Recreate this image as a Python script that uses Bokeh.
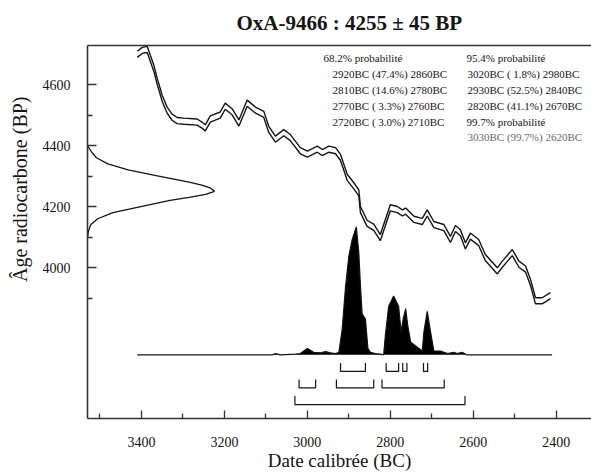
import math
from bokeh.plotting import figure
from bokeh.models import Range1d, FixedTicker, LinearAxis, ColumnDataSource, Title
from bokeh.embed import file_html
from bokeh.resources import INLINE
from bokeh.core.properties import value

# ---------------- data ----------------
title_text = "OxA-9466 : 4255 \u00b1 45 BP"
x_title = "Date calibr\u00e9e (BC)"
y_title = "\u00c2ge radiocarbone (BP)"

# calibration curve (mid line, BP) against calendar date (BC)
cal_bc = [3410, 3398, 3386, 3370, 3362, 3350, 3338, 3326, 3314, 3298, 3266, 3254, 3246, 3234, 3210,
          3198, 3181, 3165, 3145, 3125, 3105, 3093, 3077, 3057, 3041, 3017, 3000, 2976, 2964, 2948,
          2932, 2920, 2904, 2888, 2876, 2872, 2856, 2840, 2824, 2800, 2783, 2771, 2763, 2743, 2723,
          2711, 2695, 2671, 2655, 2643, 2631, 2619, 2607, 2587, 2571, 2542, 2530, 2506, 2490, 2474,
          2462, 2450, 2434, 2414]
c14_mid = [4699, 4712, 4715, 4653, 4611, 4555, 4516, 4493, 4482, 4480, 4477, 4467, 4458, 4487, 4500,
           4529, 4510, 4474, 4539, 4516, 4502, 4453, 4421, 4442, 4426, 4383, 4372, 4388, 4377, 4388,
           4383, 4361, 4296, 4268, 4245, 4190, 4145, 4132, 4098, 4196, 4190, 4179, 4185, 4158, 4151,
           4179, 4141, 4131, 4092, 4128, 4114, 4071, 4103, 4082, 4033, 3989, 4011, 4049, 4011, 3995,
           3951, 3891, 3891, 3908]
curve_err = 10

# calibrated probability distribution (relative)
dist_bc = [3410, 3084, 3077, 3065, 3029, 3017, 3000, 2985, 2968, 2956, 2944, 2932, 2924, 2916, 2908,
           2900, 2892, 2882, 2876, 2872, 2868, 2860, 2854, 2848, 2836, 2824, 2816, 2812, 2804, 2792,
           2780, 2774, 2769, 2763, 2758, 2751, 2735, 2723, 2719, 2711, 2703, 2695, 2679, 2662, 2647,
           2639, 2627, 2616, 2410]
dist_rel = [0, 0, 0.01, 0, 0.005, 0.01, 0.05, 0.02, 0.015, 0.025, 0.015, 0.01, 0.02, 0.20, 0.53,
            0.77, 0.90, 1.0, 0.80, 0.54, 0.32, 0.28, 0.05, 0.02, 0.01, 0.005, 0.0, 0.15, 0.38, 0.46,
            0.38, 0.18, 0.28, 0.36, 0.23, 0.10, 0.06, 0.03, 0.18, 0.34, 0.18, 0.03, 0.03, 0.01, 0.02,
            0.01, 0.02, 0, 0]

# radiocarbon measurement profile (relative)
gauss_bp = [4400, 4380, 4360, 4340, 4320, 4300, 4280, 4270, 4260, 4250, 4240, 4230, 4220, 4200,
            4180, 4160, 4140, 4120, 4100]
gauss_rel = [0.0, 0.03, 0.07, 0.16, 0.32, 0.56, 0.80, 0.90, 0.97, 1.0, 0.93, 0.80, 0.65, 0.42,
             0.20, 0.08, 0.025, 0.008, 0.0]

# ranges (BC)
range_68 = [(2920, 2860), (2810, 2780), (2770, 2760), (2720, 2710)]
range_95 = [(3020, 2980), (2930, 2840), (2820, 2670)]
range_99 = [(3030, 2620)]

# legend text
col1_text = ["68.2% probabilit\u00e9",
             "2920BC (47.4%) 2860BC",
             "2810BC (14.6%) 2780BC",
             "2770BC ( 3.3%) 2760BC",
             "2720BC ( 3.0%) 2710BC"]
col2_text = ["95.4% probabilit\u00e9",
             "3020BC ( 1.8%) 2980BC",
             "2930BC (52.5%) 2840BC",
             "2820BC (41.1%) 2670BC",
             "99.7% probabilit\u00e9",
             "3030BC (99.7%) 2620BC"]

x_ticks = [3400, 3200, 3000, 2800, 2600, 2400]
x_minor = [3500, 3300, 3100, 2900, 2700, 2500]
y_ticks = [4000, 4200, 4400, 4600]
y_minor = [3900, 4100, 4300, 4500]

# ---------------- layout ----------------
W, H = 591, 473
X_LEFT, X_RIGHT = 3530, 2315
Y_BOTTOM, Y_TOP = 3505, 4728
FL, FR, FT, FB = 87, 591, 45, 420


def px2x(px):
    return X_LEFT + (px - FL) * (X_RIGHT - X_LEFT) / (FR - FL)


def py2y(py):
    return Y_TOP - (py - FT) * (Y_TOP - Y_BOTTOM) / (FB - FT)


def dy(pix):
    return pix * (Y_TOP - Y_BOTTOM) / (FB - FT)


def dx(pix):
    return pix * (X_LEFT - X_RIGHT) / (FR - FL)


SERIF = "Liberation Serif"
INK = "#141414"

p = figure(width=W, height=H, x_range=Range1d(X_LEFT, X_RIGHT), y_range=Range1d(Y_BOTTOM, Y_TOP),
           output_backend="svg", toolbar_location=None,
           min_border_left=FL, min_border_right=W - FR, min_border_top=FT, min_border_bottom=H - FB)
p.grid.visible = False
p.outline_line_color = None
p.background_fill_color = "white"
p.border_fill_color = "white"

xa = p.xaxis[0]
xa.ticker = FixedTicker(ticks=x_ticks, minor_ticks=x_minor)
ya = p.yaxis[0]
ya.ticker = FixedTicker(ticks=y_ticks, minor_ticks=y_minor)
for ax in (xa, ya):
    ax.axis_line_color = "#333333"
    ax.axis_line_width = 1.6
    ax.major_tick_line_color = "#333333"
    ax.minor_tick_line_color = "#333333"
    ax.major_tick_line_width = 1.3
    ax.minor_tick_line_width = 1.3
    ax.major_tick_out = 0
    ax.minor_tick_out = 0
    ax.major_label_text_font = SERIF
    ax.major_label_text_font_size = "14px"
    ax.major_label_text_color = INK
xa.major_tick_in = 8
xa.minor_tick_in = 5
ya.major_tick_in = 9
ya.minor_tick_in = 5
xa.major_label_standoff = 18
ya.major_label_standoff = 17

xa.axis_label = x_title
xa.axis_label_text_font = SERIF
xa.axis_label_text_font_size = "19px"
xa.axis_label_text_font_style = "normal"
xa.axis_label_text_color = INK
xa.axis_label_standoff = 0

top_axis = LinearAxis(axis_line_color="#333333", axis_line_width=1.6,
                      major_tick_line_color=None, minor_tick_line_color=None,
                      major_tick_out=0, minor_tick_out=0, major_tick_in=0, minor_tick_in=0,
                      major_label_text_font_size="0px", major_label_standoff=0)
top_axis.ticker = FixedTicker(ticks=[])
p.add_layout(top_axis, "above")

# title (bold, above the frame)
p.title.text = title_text
p.title.align = "left"
p.title.offset = 149
p.title.vertical_align = "middle"
p.title.text_font = SERIF
p.title.text_font_size = "21px"
p.title.text_font_style = "bold"
p.title.text_color = INK
p.title.standoff = 19

# y axis title
p.add_layout(Title(text=y_title, align="right", offset=51, vertical_align="middle",
                   text_font=SERIF, text_font_size="20px", text_font_style="normal",
                   text_color=INK, standoff=15), "left")

# calibration curve envelope
upper = [m + curve_err for m in c14_mid]
lower = [m - curve_err for m in c14_mid]
p.line(cal_bc, upper, line_color=INK, line_width=1.4)
p.line(cal_bc, lower, line_color=INK, line_width=1.4)

# radiocarbon measurement profile on the y axis
GAUSS_W = dx(127)
gx = [X_LEFT - r * GAUSS_W for r in gauss_rel]
p.line(gx, gauss_bp, line_color=INK, line_width=1.3)

# calibrated distribution
BASE = py2y(356)
DIST_H = dy(128.7)
top = [BASE + r * DIST_H for r in dist_rel]
p.varea(x=dist_bc, y1=[BASE] * len(dist_bc), y2=top, fill_color="black")
p.line(dist_bc, top, line_color=INK, line_width=1.2)

# range brackets
BR_H = dy(8.5)
rows = [(range_68, py2y(372.7)), (range_95, py2y(389.3)), (range_99, py2y(406))]
bx, by = [], []
for ranges, yb in rows:
    for a, b in ranges:
        bx.append([a, a, b, b])
        by.append([yb + BR_H, yb, yb, yb + BR_H])
p.multi_line(bx, by, line_color=INK, line_width=1.2)

# legend text
tx, ty, tt, tc = [], [], [], []
c1x = [323, 332, 332, 332, 332]
c2x = [466, 467, 467, 467, 466, 467]
rows_y = [58, 74, 90, 105.7, 121.5, 137.3]
for i, t in enumerate(col1_text):
    tx.append(px2x(c1x[i])); ty.append(py2y(rows_y[i])); tt.append(t); tc.append(INK)
for i, t in enumerate(col2_text):
    tx.append(px2x(c2x[i])); ty.append(py2y(rows_y[i])); tt.append(t)
    tc.append("#6a6a6a" if i == 5 else INK)
src = ColumnDataSource(dict(x=tx, y=ty, text=tt, color=tc))
p.text(x="x", y="y", text="text", text_color="color", source=src,
       text_font=value(SERIF), text_font_size=value("11px"),
       text_baseline="middle", text_align="left")

open("out.html", "w").write(file_html(p, INLINE))
